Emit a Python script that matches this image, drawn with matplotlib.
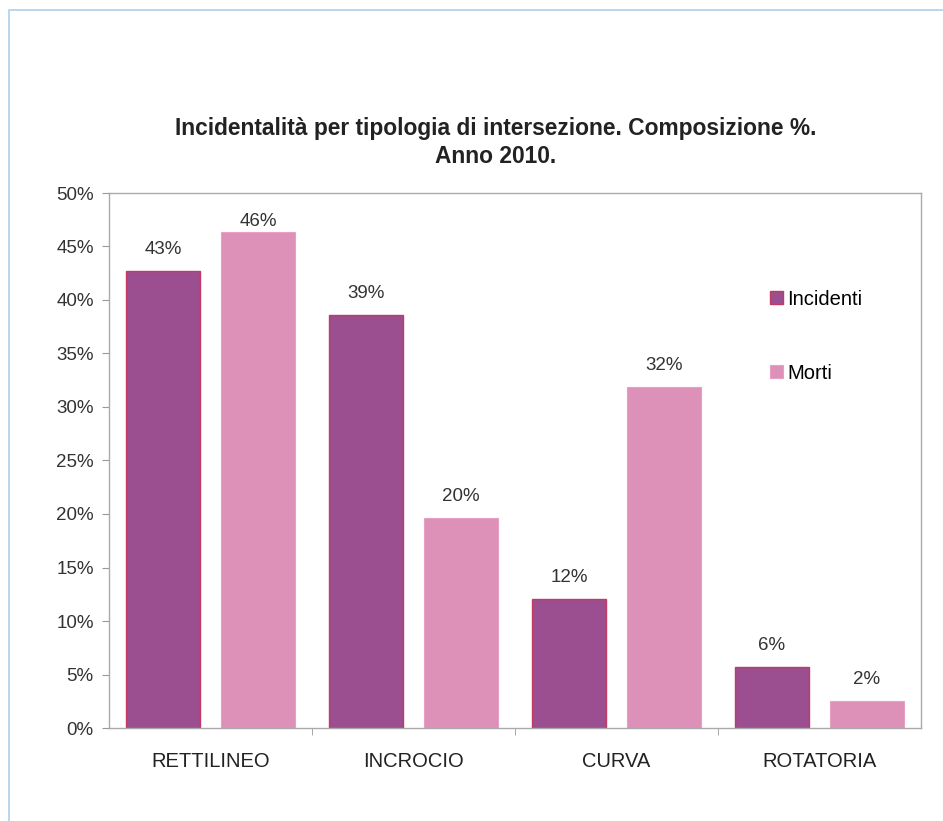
import matplotlib
matplotlib.use("Agg")
import matplotlib.pyplot as plt
from matplotlib.patches import Rectangle
from matplotlib.ticker import FuncFormatter, FixedLocator
import numpy as np

categories = ["RETTILINEO", "INCROCIO", "CURVA", "ROTATORIA"]
incidenti = [42.7, 38.6, 12.1, 5.7]
morti = [46.4, 19.6, 31.9, 2.5]
series_names = ["Incidenti", "Morti"]

plt.rcParams["font.family"] = ["Liberation Sans", "DejaVu Sans"]

W, H = 943, 821
fig = plt.figure(figsize=(W / 100, H / 100), dpi=100)
fig.patch.set_facecolor("white")

# light blue frame around the panel
fig.add_artist(Rectangle((9 / W, -0.05), 1.1, 1 - 10 / H + 0.05,
                         transform=fig.transFigure, fill=False,
                         edgecolor="#aed0ea", linewidth=1.2))

left, right, top, bottom = 109, 921, 193, 728
ax = fig.add_axes([left / W, 1 - bottom / H, (right - left) / W, (bottom - top) / H])

x = np.arange(len(categories))
bw = 0.365
off = 0.234
c_inc = "#9c4f90"
c_mor = "#dd90b8"
b1 = ax.bar(x - off, incidenti, bw, color=c_inc, edgecolor="#c23a62", linewidth=1.0,
            label=series_names[0])
b2 = ax.bar(x + off, morti, bw, color=c_mor, edgecolor="#e8a0c0", linewidth=0.8,
            label=series_names[1])

# value labels above the bars, kept inside the plot area near the top
for bars, vals in ((b1, incidenti), (b2, morti)):
    for r, v in zip(bars, vals):
        ax.text(r.get_x() + r.get_width() / 2, min(v + 2.0, 47.3), f"{v:.0f}%",
                ha="center", va="center", fontsize=13.5, color="#333333")

ax.set_xlim(-0.5, 3.5)
ax.set_ylim(0, 50)
ax.set_yticks(np.arange(0, 51, 5))
ax.yaxis.set_major_formatter(FuncFormatter(lambda v, p: f"{v:.0f}%"))
ax.tick_params(axis="y", direction="out", length=5, color="#999999",
               labelsize=13.5, labelcolor="#333333", pad=6)

ax.set_xticks(x)
ax.set_xticklabels(categories)
ax.tick_params(axis="x", length=0, labelsize=14.5, labelcolor="#222222", pad=17)
ax.xaxis.set_minor_locator(FixedLocator([0.5, 1.5, 2.5]))
ax.tick_params(axis="x", which="minor", direction="out", length=5, color="#999999")

for s in ax.spines.values():
    s.set_color("#aaaaaa")
    s.set_linewidth(1.0)

leg = ax.legend(loc="upper left", bbox_to_anchor=(0.792, 0.853), frameon=False,
                fontsize=14.5, handlelength=0.62, handleheight=0.62,
                handletextpad=0.22, labelspacing=2.72)

fig.text(0.526, 1 - 128 / H, "Incidentalità per tipologia di intersezione. Composizione %.",
         ha="center", va="center", fontsize=16.4, fontweight="bold", color="#222222")
fig.text(0.526, 1 - 156 / H, "Anno 2010.",
         ha="center", va="center", fontsize=16.4, fontweight="bold", color="#222222")

fig.savefig("out.png", dpi=100, facecolor="white")
